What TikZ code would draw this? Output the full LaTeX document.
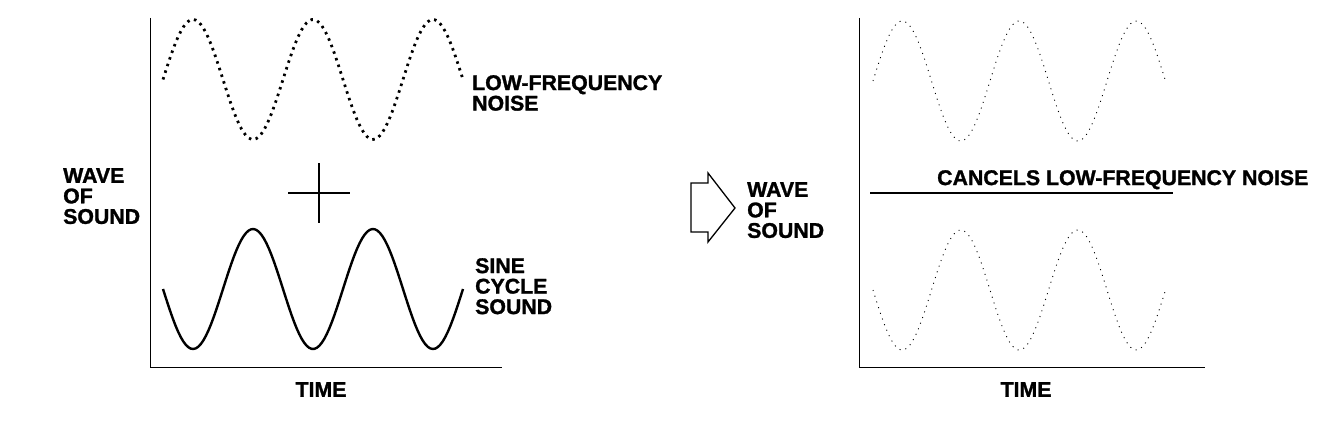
\documentclass[tikz,border=0pt]{standalone}
\usepackage{fontspec}
\setmainfont{Liberation Sans}[BoldFeatures={FakeBold=1.3}]
\usetikzlibrary{positioning}

\begin{document}
\begin{tikzpicture}[
    x=1pt, y=-1pt,
    axis/.style={draw=black, line width=0.9pt},
    label/.style={inner sep=0pt, anchor=north west, align=left, font=\fontsize{21.3}{20.5}\selectfont\bfseries},
    noise/.style={line width=2.8pt, dash pattern=on 2.5pt off 4.5pt},
    sine/.style={line width=2.4pt},
    faint/.style={line width=0.9pt, dash pattern=on 1pt off 5pt}
  ]
    \useasboundingbox (0,0) rectangle (1344,444);

    % left graph: noise + sine
    \coordinate (ltop) at (150,18);
    \coordinate (lorigin) at (150,367);
    \coordinate (lend) at (502,367);
    \draw[axis] (ltop) -- (lorigin) -- (lend);
    \draw[noise] plot[domain=163:463, samples=120] (\x, {79.5-60*sin(3*(\x-163))});
    \draw[sine] plot[domain=163:463, samples=120] (\x, {289+60*sin(3*(\x-163))});
    \draw[line width=2pt] (288,193) -- (350,193) (319,163) -- (319,223);

    \node[label] (noiselbl) at (472,75) {LOW-FREQUENCY\\NOISE};
    \node[label] (sinelbl) at (475,258) {SINE\\CYCLE\\SOUND};
    \node[label] (lwave) at (63,168) {WAVE\\OF\\SOUND};
    \node[label, anchor=north] (ltime) at (321,382) {TIME};

    % arrow to result
    \draw[line width=1.3pt, line join=miter] (691,183) -- (708,183) -- (708,173) -- (735,208)
        -- (708,242) -- (708,232) -- (691,232) -- cycle;
    \node[label] (rwave) at (747,182) {WAVE\\OF\\SOUND};

    % right graph: cancelled result
    \coordinate (rtop) at (859,18);
    \coordinate (rorigin) at (859,367);
    \coordinate (rend) at (1205,367);
    \draw[axis] (rtop) -- (rorigin) -- (rend);
    \draw[faint] plot[domain=873:1165, samples=120] (\x, {81-60*sin(3.077*(\x-873))});
    \draw[faint] plot[domain=873:1165, samples=120] (\x, {290+60*sin(3.077*(\x-873))});
    \draw[line width=2.5pt] (870,193) -- (1173,193);

    \node[label] (cancel) at (937,170) {CANCELS LOW-FREQUENCY NOISE};
    \node[label, anchor=north] (rtime) at (1026,382) {TIME};
  \end{tikzpicture}
\end{document}
